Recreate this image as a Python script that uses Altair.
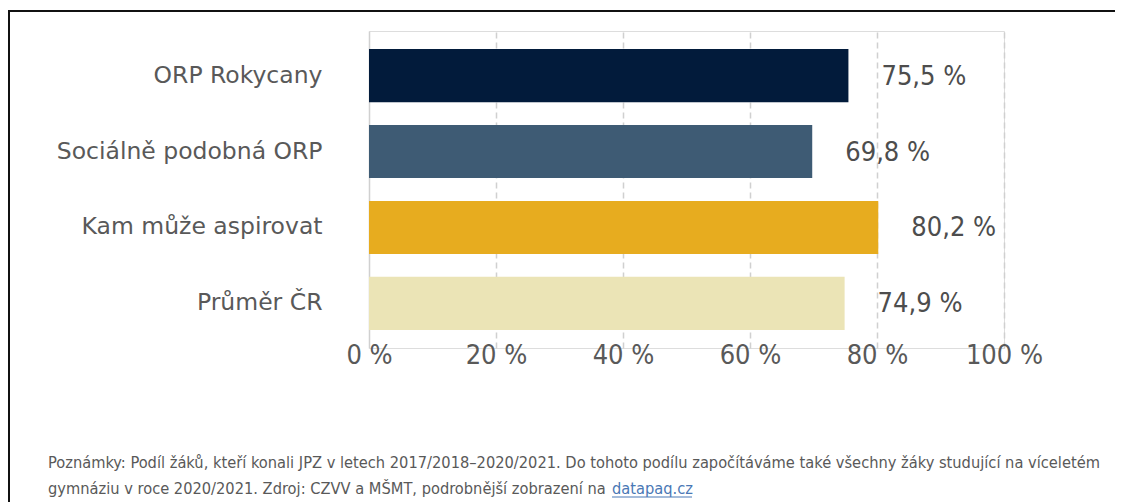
import altair as alt
import pandas as pd

categories = ["ORP Rokycany", "Sociálně podobná ORP", "Kam může aspirovat", "Průměr ČR"]
values = [75.5, 69.8, 80.2, 74.9]
value_labels = ["75,5 %", "69,8 %", "80,2 %", "74,9 %"]
colors = ["#021b3b", "#3e5b74", "#e7ac1f", "#ebe4b6"]
x_ticks = [0, 20, 40, 60, 80, 100]
note_line1 = ("Poznámky: Podíl žáků, kteří konali JPZ v letech 2017/2018–2020/2021. "
              "Do tohoto podílu započítáváme také všechny žáky studující na víceletém")
note_line2 = "gymnáziu v roce 2020/2021. Zdroj: CZVV a MŠMT, podrobnější zobrazení na"
link_text = "datapaq.cz"

CAT_FONT = "DejaVu Sans"
NUM_FONT = "'DejaVu Sans Condensed', 'DejaVu Sans'"
NOTE_FONT = "'DejaVu Sans Condensed', 'DejaVu Sans'"

df = pd.DataFrame({"cat": categories, "val": values, "lab": value_labels})

W, H = 635, 317

yscale = alt.Scale(domain=categories, paddingInner=0.3, paddingOuter=0.237)
xscale = alt.Scale(domain=[0, 100], nice=False)

base = alt.Chart(df)

bars = base.mark_bar().encode(
    x=alt.X("val:Q", scale=xscale,
            axis=alt.Axis(values=x_ticks, title=None, domain=False, ticks=False, tickSize=0,
                          labelExpr="datum.value + ' %'", labelFont=NUM_FONT,
                          labelFontSize=27, labelColor="#595959", labelPadding=-6,
                          labelBaseline="top", labelFlush=False, labelOverlap=False,
                          grid=True, gridColor="#d0d0d0", gridWidth=1.5,
                          gridDash={"condition": {"test": "datum.value === 0", "value": []},
                                    "value": [6, 4]})),
    y=alt.Y("cat:N", sort=categories, scale=yscale,
            axis=alt.Axis(title=None, domain=False, ticks=False, tickSize=0, grid=False,
                          labelFont=CAT_FONT, labelFontSize=23.5, labelColor="#595959",
                          labelPadding=47, labelLimit=0)),
    color=alt.Color("cat:N", scale=alt.Scale(domain=categories, range=colors), legend=None),
)

texts = base.mark_text(align="left", baseline="middle", dx=33, dy=1, font=NUM_FONT,
                       fontSize=27, color="#4d4d4d").encode(
    x=alt.X("val:Q", scale=xscale),
    y=alt.Y("cat:N", sort=categories, scale=yscale),
    text="lab:N",
)

border_left = alt.Chart(pd.DataFrame({"a": [0]})).mark_rule(color="#111111", strokeWidth=2).encode(
    x=alt.value(-360), y=alt.value(-21), y2=alt.value(480))
border_top = alt.Chart(pd.DataFrame({"a": [0]})).mark_rule(color="#111111", strokeWidth=2).encode(
    x=alt.value(-361), x2=alt.value(760), y=alt.value(-20))

notes_df = pd.DataFrame({"t": [note_line1, note_line2], "yy": [437, 463]})
notes = alt.Chart(notes_df).mark_text(align="left", baseline="alphabetic", font=NOTE_FONT,
                                      fontSize=16.3, color="#595959").encode(
    x=alt.value(-321), y=alt.Y("yy:Q", scale=None), text="t:N")

link = alt.Chart(pd.DataFrame({"t": [link_text]})).mark_text(
    align="left", baseline="alphabetic", font=NOTE_FONT, fontSize=16.3, color="#4a78b5").encode(
    x=alt.value(243), y=alt.value(463), text="t:N")
underline = alt.Chart(pd.DataFrame({"a": [0]})).mark_rule(color="#4a78b5", strokeWidth=1).encode(
    x=alt.value(243), x2=alt.value(323), y=alt.value(466))

chart = alt.layer(bars, texts, border_left, border_top, notes, link, underline).properties(
    width=W, height=H,
    autosize=alt.AutoSizeParams(type="none"),
    padding={"left": 361, "top": 23, "right": 111, "bottom": 154},
).configure_view(stroke=None).configure(background="white")

chart.save("out.html", embed_options={"renderer": "svg", "actions": False})
